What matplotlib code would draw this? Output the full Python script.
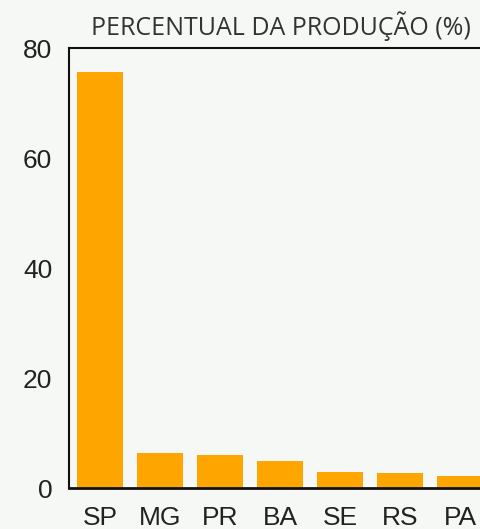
import matplotlib
matplotlib.use('Agg')
from matplotlib import pyplot as plt

# 데이터
estados = ['SP', 'MG', 'PR', 'BA', 'SE', 'RS', 'PA']
percentual = [75.6, 6.4, 6.0, 4.9, 2.9, 2.7, 2.2]

W, H = 481, 529
fig = plt.figure(figsize=(W / 100, H / 100), dpi=100)
bg = '#f6f8f6'
fig.patch.set_facecolor(bg)

# 축 위치 (픽셀 기준) - 오른쪽은 그림 밖으로 잘림
left, top, bottom = 69, 48, 488
right = 520
ax = fig.add_axes([left / W, 1 - bottom / H, (right - left) / W, (bottom - top) / H])
ax.set_facecolor(bg)

x = range(len(estados))
ax.bar(x, percentual, width=0.767, color='#FFA500', zorder=2)

px = 60.0  # 카테고리 간격
ax.set_xlim(-0.517, -0.517 + (right - left) / px)
ax.set_ylim(0, 80)
ax.set_yticks([0, 20, 40, 60, 80])
ax.set_xticks(list(x))
ax.set_xticklabels(estados)

for s in ['left', 'bottom', 'top']:
    ax.spines[s].set_color('#111111')
ax.spines['left'].set_linewidth(1.5)
ax.spines['bottom'].set_linewidth(2.0)
ax.spines['top'].set_linewidth(1.5)
ax.spines['right'].set_visible(False)

ax.tick_params(axis='both', length=0, labelsize=19, colors='#222222',
               labelfontfamily='Liberation Sans')
ax.tick_params(axis='y', pad=12)
ax.tick_params(axis='x', pad=13)

fig.text(281 / W, 1 - 26 / H, 'PERCENTUAL DA PRODUÇÃO (%)', ha='center', va='center',
         fontsize=18, color='#333333', family='Open Sans')

fig.savefig('out.png', dpi=100, facecolor=bg)
